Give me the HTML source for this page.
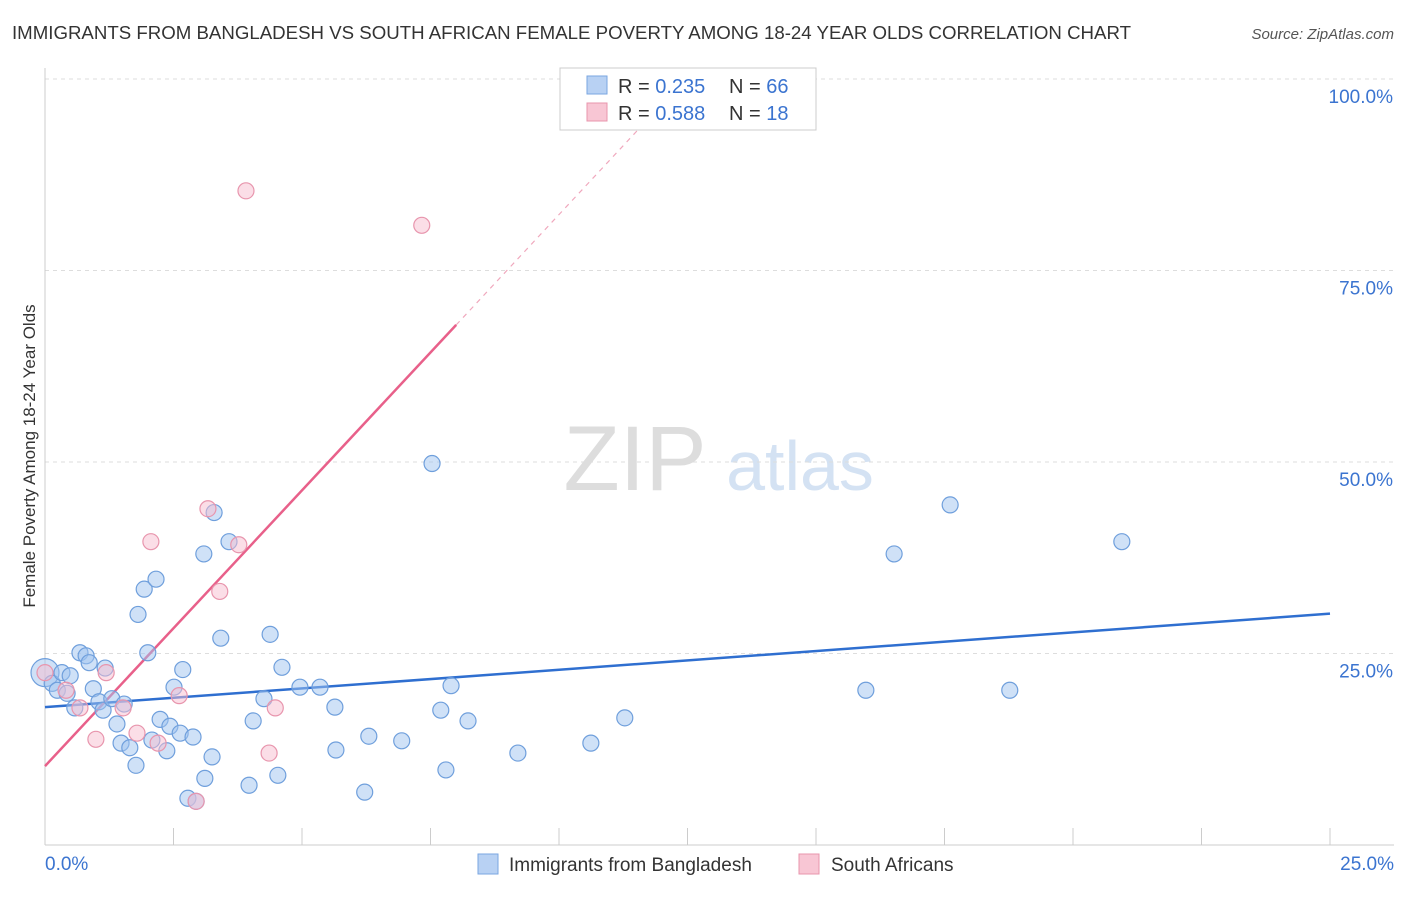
<!DOCTYPE html>
<html><head><meta charset="utf-8"><style>
body{margin:0;background:#fff;font-family:"Liberation Sans",sans-serif;}
svg text{font-family:"Liberation Sans",sans-serif;}
</style></head><body>
<svg id="chart" width="1406" height="892">
<text x="12" y="39" font-size="18" fill="#333" textLength="1119" lengthAdjust="spacingAndGlyphs">IMMIGRANTS FROM BANGLADESH VS SOUTH AFRICAN FEMALE POVERTY AMONG 18-24 YEAR OLDS CORRELATION CHART</text>
<text x="1394" y="39" font-size="15" fill="#555" text-anchor="end" font-style="italic">Source: ZipAtlas.com</text>
<text x="35" y="456" font-size="17" fill="#333" text-anchor="middle" transform="rotate(-90 35 456)">Female Poverty Among 18-24 Year Olds</text>
<g><text x="635" y="490" font-size="92" fill="#ddd" font-family="Liberation Serif" text-anchor="middle">ZIP</text><text x="800" y="490" font-size="70" fill="#d4e2f3" text-anchor="middle">atlas</text></g>
<g id="grid"></g><g id="axes"></g><g id="lines"></g><g id="pts"></g>
<g>
<rect x="560" y="68" width="256" height="62" fill="#fff" stroke="#ccc"/>
<rect x="587" y="76" width="20" height="18" fill="#b8d1f3" stroke="#7aa6e0"/>
<text x="618" y="93" font-size="20" fill="#333">R = <tspan fill="#3b74d0">0.235</tspan></text>
<text x="729" y="93" font-size="20" fill="#333">N = <tspan fill="#3b74d0">66</tspan></text>
<rect x="587" y="103" width="20" height="18" fill="#f8c6d4" stroke="#e895ad"/>
<text x="618" y="120" font-size="20" fill="#333">R = <tspan fill="#3b74d0">0.588</tspan></text>
<text x="729" y="120" font-size="20" fill="#333">N =  <tspan fill="#3b74d0">18</tspan></text>
</g>
<g>
<rect x="478" y="854" width="20" height="20" fill="#b8d1f3" stroke="#7aa6e0"/>
<text x="509" y="871" font-size="19" fill="#333">Immigrants from Bangladesh</text>
<rect x="799" y="854" width="20" height="20" fill="#f8c6d4" stroke="#e895ad"/>
<text x="831" y="871" font-size="19" fill="#333">South Africans</text>
</g>
</svg>
<script>
const yTicks=[25,50,75,100];
const xTickLabels=["0.0%","25.0%"];
const blueX=[0,0.14,0.24,0.33,0.43,0.49,0.58,0.68,0.8,0.86,0.94,1.05,1.13,1.17,1.3,1.4,1.48,1.54,1.65,1.77,1.81,1.93,2.0,2.08,2.16,2.24,2.37,2.43,2.51,2.63,2.68,2.88,2.78,2.94,3.09,3.11,3.25,3.29,3.42,3.58,3.97,4.05,4.26,4.38,4.53,4.61,4.96,5.35,5.64,5.66,6.22,6.3,6.94,7.53,7.7,7.8,7.9,8.23,9.2,10.62,11.28,15.97,16.52,17.61,18.77,20.95];
const blueY=[22.5,21.1,20.2,22.5,19.8,22.1,17.9,25.1,24.7,23.8,20.4,18.7,17.6,23.1,19.1,15.8,13.3,18.4,12.7,10.4,30.1,33.4,25.1,13.7,34.7,16.4,12.3,15.5,20.6,14.6,22.9,14.1,6.1,5.7,38.0,8.7,11.5,43.4,27.0,39.6,7.8,16.2,19.1,27.5,9.1,23.2,20.6,20.6,18.0,12.4,6.9,14.2,13.6,49.8,17.6,9.8,20.8,16.2,12.0,13.3,16.6,20.2,38.0,44.4,20.2,39.6];
const pinkX=[0,0.41,0.68,0.99,1.19,1.52,1.79,2.06,2.2,2.61,2.94,3.17,3.4,3.77,3.91,4.36,4.48,7.33];
const pinkY=[22.5,20.2,17.9,13.8,22.5,17.9,14.6,39.6,13.3,19.5,5.7,43.9,33.1,39.2,85.4,12.0,17.9,80.9];
const X=v=>45+v*51.4, Y=v=>845-v*7.66;
const ns="http://www.w3.org/2000/svg";
function mk(parent,tag,attrs){const e=document.createElementNS(ns,tag);for(const k in attrs)e.setAttribute(k,attrs[k]);document.getElementById(parent).appendChild(e);return e;}
yTicks.forEach(t=>{
 const l=mk('grid','line',{x1:45,x2:1394,y1:Y(t),y2:Y(t),stroke:'#ddd','stroke-dasharray':'4,4'});
 
 
 const tx=mk('grid','text',{x:1393,y:Y(t)+24,'font-size':19,fill:'#3b74d0','text-anchor':'end'});tx.textContent=t.toFixed(1)+'%';
 
 
});
const ax=mk('axes','line',{x1:45,x2:1394,y1:845,y2:845,stroke:'#ccc'});


const ay=mk('axes','line',{x1:45,x2:45,y1:68,y2:845,stroke:'#ccc'});


for(let i=1;i<=10;i++){const t=mk('axes','line',{x1:X(i*2.5),x2:X(i*2.5),y1:828,y2:845,stroke:'#ccc'});
 
 }
[[0,'start',45],[25,'end',1394]].forEach((a,i)=>{const t=mk('axes','text',{x:a[2],y:870,'font-size':19,fill:'#3b74d0','text-anchor':a[1]});t.textContent=xTickLabels[i];
 
 });
const bl=mk('lines','line',{x1:X(0),y1:Y(18.0),x2:X(25),y2:Y(30.2),stroke:'#2f6fd0','stroke-width':2.5});


const pk=mk('lines','line',{x1:X(0),y1:Y(10.3),x2:X(8),y2:Y(67.9),stroke:'#e8608a','stroke-width':2.5});


const pd=mk('lines','line',{x1:X(8),y1:Y(67.9),x2:X(12.0),y2:Y(96.7),stroke:'#f0a8bd','stroke-width':1.2,'stroke-dasharray':'5,5'});


blueX.forEach((v,i)=>{const c=mk('pts','circle',{cx:X(v),cy:Y(blueY[i]),r:i==0?14:8,fill:'rgba(160,195,240,0.5)',stroke:'#6f9fdc','stroke-width':1.2});
 
 });
pinkX.forEach((v,i)=>{const c=mk('pts','circle',{cx:X(v),cy:Y(pinkY[i]),r:8,fill:'rgba(248,190,208,0.5)',stroke:'#e895ad','stroke-width':1.2});
 
 });
</script>
</body></html>
